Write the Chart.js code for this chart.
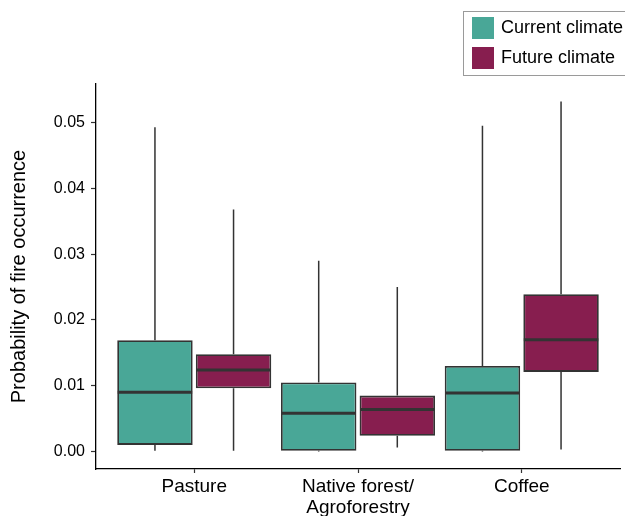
<!DOCTYPE html>
<html>
<head>
<meta charset="utf-8">
<script src="https://cdn.jsdelivr.net/npm/chart.js@4"></script>
<style>
  html, body { margin: 0; padding: 0; background: #fff; }
  #c { display: block; }
</style>
</head>
<body>
<canvas id="c" width="625" height="516"></canvas>
<script>
// ---- data ----
const categories = ['Pasture', ['Native forest/', 'Agroforestry'], 'Coffee'];
const seriesNames = ['Current climate', 'Future climate'];
const yTicks = [0, 0.01, 0.02, 0.03, 0.04, 0.05];

const currentMin    = [0.0001, 0.0000, 0.0000];
const currentQ1     = [0.0010, 0.0001, 0.0001];
const currentMedian = [0.0090, 0.0058, 0.0089];
const currentQ3     = [0.0169, 0.0105, 0.0130];
const currentMax    = [0.0493, 0.0290, 0.0495];

const futureMin     = [0.0001, 0.0006, 0.0003];
const futureQ1      = [0.0096, 0.0024, 0.0121];
const futureMedian  = [0.0124, 0.0064, 0.0170];
const futureQ3      = [0.0148, 0.0085, 0.0239];
const futureMax     = [0.0368, 0.0250, 0.0532];

// ---- styling ----
const FONT = "'Liberation Sans', Arial, Helvetica, sans-serif";
const colors = ['#49A797', '#871E4F'];
const lineCol = '#333333';

function makeData(q1, q3) {
  return q1.map((v, i) => ({ x: i, y: [v, q3[i]] }));
}
const stats = [
  { min: currentMin, med: currentMedian, max: currentMax, q1: currentQ1, q3: currentQ3 },
  { min: futureMin, med: futureMedian, max: futureMax, q1: futureQ1, q3: futureQ3 }
];

const boxPlugin = {
  id: 'boxExtras',
  beforeDatasetsDraw(chart) {
    const ctx = chart.ctx;
    const y = chart.scales.y;
    ctx.save();
    ctx.strokeStyle = lineCol;
    ctx.lineWidth = 1.5;
    chart.data.datasets.forEach((ds, di) => {
      const meta = chart.getDatasetMeta(di);
      const s = stats[di];
      meta.data.forEach((bar, i) => {
        const x = bar.x;
        ctx.beginPath();
        ctx.moveTo(x, y.getPixelForValue(s.q3[i]));
        ctx.lineTo(x, y.getPixelForValue(s.max[i]));
        ctx.moveTo(x, y.getPixelForValue(s.q1[i]));
        ctx.lineTo(x, y.getPixelForValue(s.min[i]));
        ctx.stroke();
      });
    });
    ctx.restore();
  },
  afterDatasetsDraw(chart) {
    const ctx = chart.ctx;
    const y = chart.scales.y;
    ctx.save();
    ctx.strokeStyle = lineCol;
    ctx.lineWidth = 3;
    chart.data.datasets.forEach((ds, di) => {
      const meta = chart.getDatasetMeta(di);
      const s = stats[di];
      meta.data.forEach((bar, i) => {
        const half = bar.width / 2;
        const py = y.getPixelForValue(s.med[i]);
        ctx.beginPath();
        ctx.moveTo(bar.x - half + 0.5, py);
        ctx.lineTo(bar.x + half - 0.5, py);
        ctx.stroke();
      });
    });
    ctx.restore();
  },
  afterDraw(chart) {
    const ctx = chart.ctx;
    ctx.save();
    // legend box
    ctx.strokeStyle = '#9a9a9a';
    ctx.lineWidth = 1;
    ctx.strokeRect(463.5, 11.5, 200, 64);
    ctx.font = '18px ' + FONT;
    ctx.textBaseline = 'middle';
    ctx.textAlign = 'left';
    chart.data.datasets.forEach((ds, di) => {
      const top = 17 + di * 30;
      ctx.fillStyle = ds.backgroundColor;
      ctx.fillRect(472, top, 22, 22);
      ctx.fillStyle = '#000';
      ctx.fillText(ds.label, 501, top + 11.5);
    });
    ctx.restore();
  }
};

new Chart(document.getElementById('c'), {
  type: 'bar',
  data: {
    datasets: [
      {
        label: seriesNames[0],
        data: makeData(currentQ1, currentQ3),
        backgroundColor: colors[0],
        borderColor: lineCol,
        borderWidth: 1.8,
        borderSkipped: false,
        categoryPercentage: 0.96,
        barPercentage: 0.96
      },
      {
        label: seriesNames[1],
        data: makeData(futureQ1, futureQ3),
        backgroundColor: colors[1],
        borderColor: lineCol,
        borderWidth: 1.8,
        borderSkipped: false,
        categoryPercentage: 0.96,
        barPercentage: 0.96
      }
    ]
  },
  options: {
    responsive: false,
    animation: false,
    events: [],
    layout: { padding: { top: 84, right: 5, left: 0, bottom: 0 } },
    plugins: {
      legend: { display: false },
      tooltip: { enabled: false },
      title: { display: false }
    },
    scales: {
      x: {
        type: 'linear',
        min: -0.6,
        max: 2.6,
        offset: false,
        afterBuildTicks(scale) {
          scale.ticks = categories.map((c, i) => ({ value: i }));
        },
        afterFit(scale) { scale.height = 47; },
        grid: {
          display: true,
          drawOnChartArea: false,
          drawTicks: true,
          tickLength: 4,
          tickWidth: 1.2,
          tickColor: lineCol,
          offset: false
        },
        border: { display: true, color: '#000', width: 1.3 },
        ticks: {
          color: '#000',
          padding: 3,
          maxRotation: 0,
          autoSkip: false,
          font: { family: FONT, size: 19, lineHeight: 1.1 },
          callback: (v) => categories[v]
        }
      },
      y: {
        type: 'linear',
        min: -0.00266,
        max: 0.05586,
        afterBuildTicks(scale) {
          scale.ticks = yTicks.map(v => ({ value: v }));
        },
        afterFit(scale) { scale.width = 96; },
        grid: {
          display: true,
          drawOnChartArea: false,
          drawTicks: true,
          tickLength: 5,
          tickWidth: 1.2,
          tickColor: lineCol
        },
        border: { display: true, color: '#000', width: 1.3 },
        ticks: {
          color: '#000',
          padding: 6,
          font: { family: FONT, size: 16 },
          callback: (v) => Number(v).toFixed(2)
        },
        title: {
          display: true,
          text: 'Probability of fire occurrence',
          color: '#000',
          font: { family: FONT, size: 20 },
          padding: { top: 7, bottom: 0 }
        }
      }
    }
  },
  plugins: [boxPlugin]
});
</script>
</body>
</html>
